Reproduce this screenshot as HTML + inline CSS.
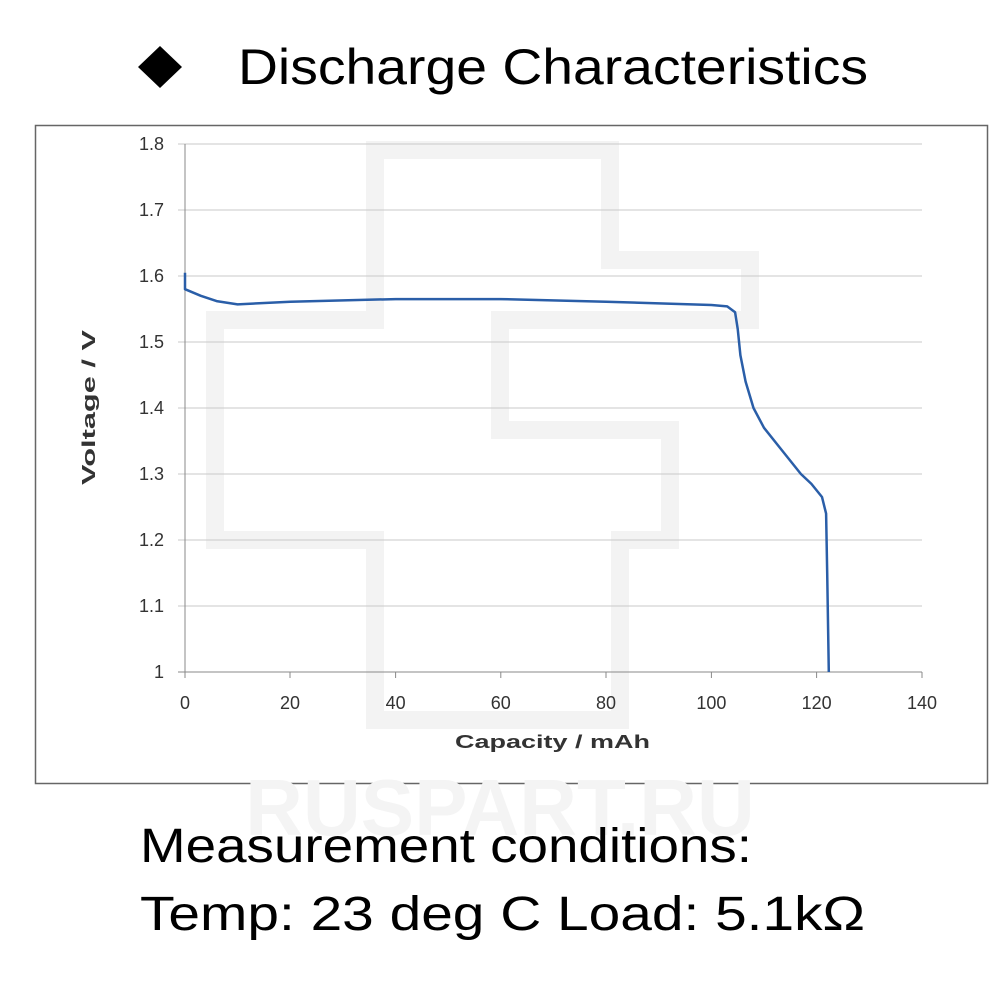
<!DOCTYPE html>
<html><head><style>
body{margin:0;background:#fff;width:1000px;height:1000px;overflow:hidden;font-family:"Liberation Sans",sans-serif}
</style></head><body>
<svg width="1000" height="1000" xmlns="http://www.w3.org/2000/svg" style="position:absolute;left:0;top:0" xml:space="preserve">
<polygon points="160,46 182,67 160,88 138,67" fill="#000"/>
<text x="238" y="84" font-size="50" font-family="Liberation Sans" textLength="630" lengthAdjust="spacingAndGlyphs">Discharge Characteristics</text>
<rect x="35.5" y="125.5" width="952" height="658" fill="#fff" stroke="#666" stroke-width="1.5"/>
<g fill="none" stroke="#f3f3f3" stroke-width="18">
<path d="M375,150 H610 V260 H750 V320 H500 V430 H670 V540 H620 V720 H375 V540 H215 V320 H375 Z"/>
</g>
<text x="500" y="835" font-size="80" font-weight="bold" fill="#f4f4f4" text-anchor="middle">RUSPART.RU</text>
<g stroke="#c8c8c8" stroke-width="1">
<line x1="178" y1="144" x2="922" y2="144"/>
<line x1="178" y1="210" x2="922" y2="210"/>
<line x1="178" y1="276" x2="922" y2="276"/>
<line x1="178" y1="342" x2="922" y2="342"/>
<line x1="178" y1="408" x2="922" y2="408"/>
<line x1="178" y1="474" x2="922" y2="474"/>
<line x1="178" y1="540" x2="922" y2="540"/>
<line x1="178" y1="606" x2="922" y2="606"/>
</g>
<g stroke="#888" stroke-width="1">
<line x1="185" y1="144" x2="185" y2="678"/>
<line x1="178" y1="672" x2="922" y2="672"/>
<line x1="290" y1="672" x2="290" y2="678"/><line x1="395.6" y1="672" x2="395.6" y2="678"/>
<line x1="500.8" y1="672" x2="500.8" y2="678"/><line x1="606" y1="672" x2="606" y2="678"/>
<line x1="711.4" y1="672" x2="711.4" y2="678"/><line x1="816.6" y1="672" x2="816.6" y2="678"/>
<line x1="922" y1="672" x2="922" y2="678"/>
</g>
<g font-size="18" fill="#333" text-anchor="end">
<text x="164" y="150">1.8</text><text x="164" y="216">1.7</text><text x="164" y="282">1.6</text>
<text x="164" y="348">1.5</text><text x="164" y="414">1.4</text><text x="164" y="480">1.3</text>
<text x="164" y="546">1.2</text><text x="164" y="612">1.1</text><text x="164" y="678">1</text>
</g>
<g font-size="18" fill="#333" text-anchor="middle">
<text x="185" y="709">0</text><text x="290" y="709">20</text><text x="395.6" y="709">40</text>
<text x="500.8" y="709">60</text><text x="606" y="709">80</text><text x="711.4" y="709">100</text>
<text x="816.6" y="709">120</text><text x="922" y="709">140</text>
</g>
<text x="455" y="748" font-size="18" font-weight="bold" fill="#333" textLength="195" lengthAdjust="spacingAndGlyphs">Capacity  /  mAh</text>
<text transform="translate(95,485) rotate(-90)" font-size="18" font-weight="bold" fill="#333" textLength="155" lengthAdjust="spacingAndGlyphs">Voltage  /  V</text>
<polyline fill="none" stroke="#2a5ea8" stroke-width="2.5" stroke-linejoin="round" points="185,272.7 185,289.2 200.8,295.8 216.6,301.1 237.6,304.4 290.3,301.7 395.6,299.1 500.8,299.1 606.1,301.7 711.4,305 727.2,306.4 735.1,312.3 737.7,328.8 740.4,355.2 745.6,381.6 753.5,408 764,427.8 779.8,447.6 795.6,467.4 800.9,474 811.4,483.9 822,497 826.1,513.6 827.2,573 828.8,672"/>
<text x="140" y="862" font-size="48" textLength="612" lengthAdjust="spacingAndGlyphs">Measurement conditions:</text>
<text x="140" y="930" font-size="48" textLength="725" lengthAdjust="spacingAndGlyphs">Temp: 23 deg C   Load: 5.1kΩ</text>
</svg>
</body></html>
